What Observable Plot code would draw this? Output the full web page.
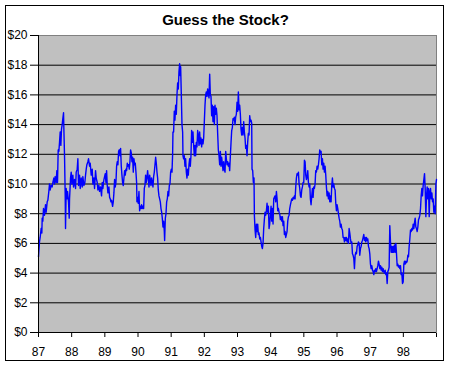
<!DOCTYPE html>
<html><head><meta charset="utf-8">
<script src="https://cdn.jsdelivr.net/npm/d3@7"></script>
<script src="https://cdn.jsdelivr.net/npm/@observablehq/plot@0.6"></script>
<style>
html,body{margin:0;padding:0;background:#fff;}
#chart{position:relative;width:451px;height:368px;overflow:hidden;font-family:"Liberation Sans",Arial,sans-serif;}
#plot{position:absolute;left:0;top:0;}
#frame{position:absolute;left:5px;top:5px;width:439px;height:356px;box-sizing:border-box;border:1px solid #000;pointer-events:none;}
#title{position:absolute;left:0;top:12px;width:451px;text-align:center;font-weight:bold;font-size:15px;line-height:15px;color:#000;}
</style></head>
<body>
<div id="chart"><div id="plot"></div><div id="frame"></div><div id="title">Guess the Stock?</div></div>
<script>
// [decimal year, price $]
const seg1987 = [[87.000,5.1],[87.030,6.1],[87.050,6.4],[87.080,7.0],[87.101,6.7],[87.111,7.7],[87.131,7.5],[87.151,8.35],[87.181,7.9],[87.211,8.6],[87.231,8.1],[87.262,8.8],[87.282,8.9],[87.312,9.5],[87.332,10.0],[87.352,9.6],[87.382,9.9],[87.412,9.8],[87.433,10.1],[87.463,10.4],[87.483,10.0],[87.503,10.5],[87.533,10.1],[87.553,10.9],[87.573,10.1],[87.594,12.3],[87.614,12.2],[87.634,12.8],[87.654,13.5],[87.674,12.6],[87.694,13.7],[87.714,14.0],[87.734,14.4],[87.755,14.8],[87.765,13.7],[87.785,11.9],[87.805,9.2],[87.815,7.0],[87.835,9.7],[87.855,9.0],[87.875,9.5],[87.905,8.8],[87.926,7.7],[87.936,9.0],[87.966,10.4],[87.986,10.8],[88.006,10.0],[88.036,10.6],[88.056,9.8],[88.087,10.3],[88.117,9.7],[88.137,10.8],[88.167,11.0],[88.187,11.7],[88.207,9.9],[88.237,10.6],[88.258,9.7],[88.288,10.4],[88.318,9.8],[88.338,10.5],[88.368,9.9],[88.398,10.1],[88.418,10.6],[88.439,11.0],[88.459,11.3],[88.489,11.5],[88.509,11.7],[88.539,11.2],[88.559,11.4],[88.590,10.6],[88.620,11.0],[88.640,10.0],[88.670,10.4],[88.690,9.7],[88.720,10.9],[88.740,10.4],[88.771,10.1],[88.791,9.6],[88.821,9.9],[88.841,9.5],[88.871,9.8],[88.901,9.2],[88.922,10.1],[88.942,9.7],[88.972,10.3]];
const seg1989 = [[89.013,10.7],[89.033,10.1],[89.053,10.9],[89.073,9.9],[89.093,9.4],[89.123,9.8],[89.144,9.1],[89.164,9.0],[89.184,8.8],[89.204,8.9],[89.234,8.5],[89.254,8.8],[89.274,9.4],[89.294,10.3],[89.315,9.8],[89.335,10.1],[89.355,11.2],[89.375,11.5],[89.395,11.3],[89.415,12.2],[89.435,12.3],[89.455,11.9],[89.475,12.4],[89.496,11.2],[89.516,10.6],[89.536,10.1],[89.556,9.9],[89.576,10.4],[89.596,10.9],[89.616,10.6],[89.636,11.0],[89.657,10.9],[89.677,11.4],[89.697,11.2],[89.717,11.3],[89.737,11.0],[89.757,11.5],[89.777,12.3],[89.797,12.1],[89.818,11.5],[89.838,11.8],[89.858,10.8],[89.878,11.7],[89.898,11.3],[89.918,11.4],[89.938,10.8],[89.958,10.1],[89.968,8.8],[89.989,9.1],[90.009,8.7],[90.029,9.5],[90.049,8.2],[90.069,8.5],[90.089,8.35],[90.109,8.6],[90.129,8.35],[90.149,8.5],[90.170,8.35],[90.190,9.7],[90.210,9.9],[90.230,10.6],[90.250,10.1],[90.270,10.4],[90.290,10.9],[90.310,10.4],[90.331,9.8],[90.351,10.6],[90.371,10.3],[90.391,9.9],[90.411,10.4],[90.431,10.1],[90.451,9.8],[90.471,10.5],[90.492,10.8],[90.512,11.3],[90.532,11.8],[90.552,11.4],[90.572,10.8],[90.592,10.4],[90.612,9.6],[90.632,9.2],[90.653,9.0],[90.673,8.8],[90.693,8.35],[90.713,8.1],[90.733,7.7],[90.753,7.1],[90.773,7.5],[90.793,6.8],[90.803,6.2],[90.824,7.7],[90.844,8.0],[90.864,8.8],[90.884,9.0],[90.904,9.5],[90.924,9.2],[90.944,9.9],[90.964,10.0],[90.984,10.8],[91.005,11.0],[91.025,10.8]];
const seg1991 = [[91.044,12.0],[91.054,13.5],[91.074,13.5],[91.094,14.9],[91.114,14.3],[91.135,15.3],[91.155,14.7],[91.175,16.0],[91.195,16.8],[91.215,16.4],[91.235,17.55],[91.255,18.1],[91.275,17.3],[91.286,17.9],[91.306,16.0],[91.326,14.0],[91.346,13.5],[91.356,11.9],[91.376,11.7],[91.396,11.9],[91.416,11.2],[91.436,11.7],[91.457,10.8],[91.477,10.4],[91.497,11.0],[91.517,10.6],[91.537,11.3],[91.557,11.7],[91.577,11.2],[91.597,11.9],[91.617,13.6],[91.638,12.8],[91.658,13.5],[91.678,12.6],[91.698,11.9],[91.718,12.6],[91.738,11.9],[91.758,12.8],[91.778,12.5],[91.799,13.6],[91.819,13.3],[91.839,12.6],[91.859,13.5],[91.879,12.7],[91.899,13.1],[91.919,12.5],[91.939,13.0],[91.960,12.7],[91.980,13.1],[92.000,14.2],[92.020,15.3],[92.040,16.0],[92.060,16.2],[92.080,15.9],[92.100,16.4],[92.121,16.1],[92.141,15.8],[92.161,17.4],[92.181,16.0],[92.201,15.9],[92.221,14.6],[92.241,15.3],[92.261,14.2],[92.282,15.2],[92.302,14.0],[92.322,15.3],[92.342,14.7],[92.362,15.1],[92.382,14.6],[92.402,13.4],[92.422,12.3],[92.443,11.9],[92.463,11.3],[92.483,12.2],[92.503,11.2],[92.523,11.8],[92.543,11.4],[92.563,10.9],[92.583,11.5],[92.604,11.0],[92.624,10.8],[92.644,12.2],[92.664,11.7],[92.684,11.3],[92.704,11.5],[92.724,11.2],[92.744,11.4],[92.764,10.9],[92.785,11.9],[92.805,12.8],[92.825,13.6],[92.845,13.8],[92.865,14.4],[92.885,14.3],[92.905,14.5],[92.925,14.0],[92.945,14.5],[92.966,14.7],[92.986,15.5],[93.006,14.9],[93.026,16.2],[93.046,15.0],[93.066,15.3],[93.086,14.7]];
const seg1993 = [[93.106,13.7],[93.126,13.3],[93.146,13.8],[93.166,13.3],[93.187,14.2],[93.207,13.5],[93.227,13.1],[93.247,12.4],[93.267,12.6],[93.287,11.9],[93.307,12.8],[93.327,13.4],[93.348,13.3],[93.368,14.6],[93.388,14.2],[93.408,14.3],[93.428,14.1],[93.438,11.0],[93.458,10.9],[93.478,10.1],[93.498,10.4],[93.509,7.9],[93.529,6.9],[93.549,6.4],[93.569,7.3],[93.589,6.8],[93.609,7.3],[93.629,6.6],[93.649,6.7],[93.670,6.3],[93.690,6.4],[93.710,6.1],[93.730,5.8],[93.750,5.65],[93.770,6.0],[93.790,7.0],[93.810,7.6],[93.830,8.1],[93.851,7.9],[93.871,8.2],[93.891,8.7],[93.911,8.1],[93.931,8.5],[93.951,7.0],[93.971,7.3],[93.991,7.9],[94.012,8.5],[94.032,7.5],[94.052,8.35],[94.072,7.3],[94.092,9.0],[94.112,9.1],[94.132,9.2],[94.152,8.8],[94.173,9.5],[94.193,9.0],[94.213,8.2],[94.233,8.35],[94.253,8.1],[94.273,8.0],[94.293,7.6],[94.313,7.8],[94.334,7.5],[94.354,7.8],[94.374,7.2],[94.394,7.5],[94.414,6.6],[94.434,6.8],[94.454,6.4],[94.474,6.6],[94.494,6.8],[94.515,7.5],[94.535,7.8],[94.555,7.9],[94.575,8.35],[94.595,8.6],[94.615,8.8],[94.635,9.0],[94.655,8.9],[94.676,9.1],[94.696,9.0],[94.716,9.2],[94.736,9.0],[94.756,9.8],[94.776,10.4],[94.796,10.7],[94.816,10.6],[94.837,10.8],[94.857,10.0],[94.877,9.7],[94.897,9.2],[94.917,9.1],[94.937,9.6],[94.957,9.8],[94.977,10.1],[94.998,10.1],[95.018,11.6],[95.038,11.5],[95.058,10.6],[95.078,10.3],[95.098,10.5],[95.118,10.9],[95.138,10.1],[95.158,9.8],[95.179,10.0]];
const seg1995 = [[95.198,9.0],[95.218,8.6],[95.239,9.2],[95.259,9.7],[95.279,9.1],[95.299,9.8],[95.319,9.7],[95.339,10.0],[95.359,10.9],[95.379,10.8],[95.400,11.2],[95.420,11.0],[95.440,11.3],[95.460,11.7],[95.480,12.3],[95.500,12.1],[95.520,12.2],[95.540,11.3],[95.561,11.7],[95.581,11.0],[95.601,11.4],[95.621,10.8],[95.641,11.2],[95.661,10.6],[95.681,9.8],[95.701,9.2],[95.721,9.5],[95.742,9.0],[95.762,9.4],[95.782,8.8],[95.802,9.2],[95.822,8.8],[95.842,9.9],[95.862,10.4],[95.882,9.8],[95.903,10.0],[95.923,9.7],[95.943,9.6],[95.963,8.7],[95.983,8.2],[96.003,8.6],[96.023,8.35],[96.043,8.0],[96.064,7.7],[96.084,7.5],[96.104,7.1],[96.124,7.3],[96.144,7.0],[96.164,6.9],[96.184,6.4],[96.204,6.4],[96.225,6.1],[96.245,6.4],[96.265,6.2],[96.285,6.4],[96.305,6.1],[96.325,6.3],[96.345,6.0],[96.365,7.0],[96.386,6.7],[96.406,6.3],[96.426,6.0],[96.446,6.1],[96.466,5.3],[96.486,5.2],[96.506,5.0],[96.526,4.3],[96.547,5.2],[96.567,5.4],[96.587,5.3],[96.607,5.8],[96.627,5.9],[96.647,6.1],[96.667,6.0],[96.687,5.2],[96.707,5.65],[96.728,5.8],[96.748,6.1],[96.768,6.2],[96.788,6.4],[96.808,6.6],[96.828,6.2],[96.848,6.4],[96.868,6.1],[96.889,6.4],[96.909,6.2],[96.929,6.3],[96.949,5.8],[96.969,5.65],[96.989,5.3],[97.009,4.6],[97.029,4.3],[97.049,4.5],[97.070,4.2],[97.090,4.1],[97.110,3.9],[97.130,4.2],[97.150,4.1],[97.170,4.3],[97.190,4.1]];
const seg1997 = [[97.210,4.3],[97.230,4.5],[97.250,4.8],[97.270,4.6],[97.291,4.3],[97.311,4.5],[97.331,4.2],[97.351,4.4],[97.371,4.1],[97.391,4.3],[97.411,4.1],[97.431,4.0],[97.452,4.2],[97.472,3.9],[97.492,4.0],[97.512,3.3],[97.532,4.1],[97.552,4.2],[97.572,4.4],[97.592,7.2],[97.613,6.1],[97.633,5.4],[97.653,5.8],[97.673,5.4],[97.693,5.8],[97.713,5.4],[97.733,5.9],[97.753,5.4],[97.774,6.0],[97.794,5.3],[97.814,4.5],[97.834,4.6],[97.854,4.4],[97.874,4.5],[97.894,4.3],[97.914,4.5],[97.934,3.9],[97.955,4.0],[97.975,3.3],[97.995,3.4],[98.015,4.6],[98.035,4.8],[98.055,4.6],[98.075,4.8],[98.095,4.7],[98.116,4.8],[98.136,5.2],[98.156,5.1],[98.176,5.8],[98.196,6.3],[98.216,6.9],[98.236,6.8],[98.256,7.0],[98.277,6.9],[98.297,7.3],[98.317,7.0],[98.337,7.4],[98.357,7.7],[98.377,7.1],[98.397,7.0],[98.417,6.8],[98.437,7.1],[98.458,7.6],[98.478,7.7],[98.498,7.9],[98.518,8.35],[98.538,9.2],[98.558,9.7],[98.578,9.2],[98.598,9.9],[98.619,10.3],[98.639,10.7],[98.659,9.7],[98.679,7.8],[98.699,9.2],[98.719,9.8],[98.739,9.0],[98.759,9.7],[98.780,7.8],[98.800,9.5],[98.820,9.7],[98.840,9.0],[98.860,9.4],[98.880,8.8],[98.900,9.0],[98.920,8.1],[98.941,8.5],[98.961,8.0],[98.981,10.0],[99.000,10.3]];

const xTicks = [87,88,89,90,91,92,93,94,95,96,97,98,99];
const xTickLabels = ["87","88","89","90","91","92","93","94","95","96","97","98",""];
const yTicks = [0,2,4,6,8,10,12,14,16,18,20];
const yTickLabels = ["$0","$2","$4","$6","$8","$10","$12","$14","$16","$18","$20"];
const gridValues = [2,4,6,8,10,12,14,16,18];

const series = [...seg1987, ...seg1989, ...seg1991, ...seg1993, ...seg1995, ...seg1997]
  .map(([t, p]) => ({t, p}));
const xLab = new Map(xTicks.map((v, i) => [v, xTickLabels[i]]));
const yLab = new Map(yTicks.map((v, i) => [v, yTickLabels[i]]));

const chart = Plot.plot({
  width: 451, height: 368,
  marginLeft: 38, marginRight: 15, marginTop: 35, marginBottom: 36,
  style: {fontFamily: "'Liberation Sans', Arial, sans-serif", fontSize: "12px", background: "transparent", color: "#000", overflow: "visible"},
  x: {domain: [87, 99], ticks: xTicks, tickFormat: d => xLab.get(d), tickSize: 5, tickPadding: 10, label: null},
  y: {domain: [0, 20], ticks: yTicks, tickFormat: d => yLab.get(d), tickSize: 8, tickPadding: 3, label: null},
  marks: [
    Plot.frame({fill: "#c0c0c0", stroke: "#808080"}),
    Plot.ruleY(gridValues, {stroke: "#000", strokeWidth: 1}),
    Plot.line(series, {x: "t", y: "p", stroke: "#0000ff", strokeWidth: 1.4}),
    Plot.ruleY([0], {stroke: "#000"}),
    Plot.ruleX([87], {stroke: "#000"})
  ]
});
document.getElementById("plot").appendChild(chart);
</script>
</body></html>
